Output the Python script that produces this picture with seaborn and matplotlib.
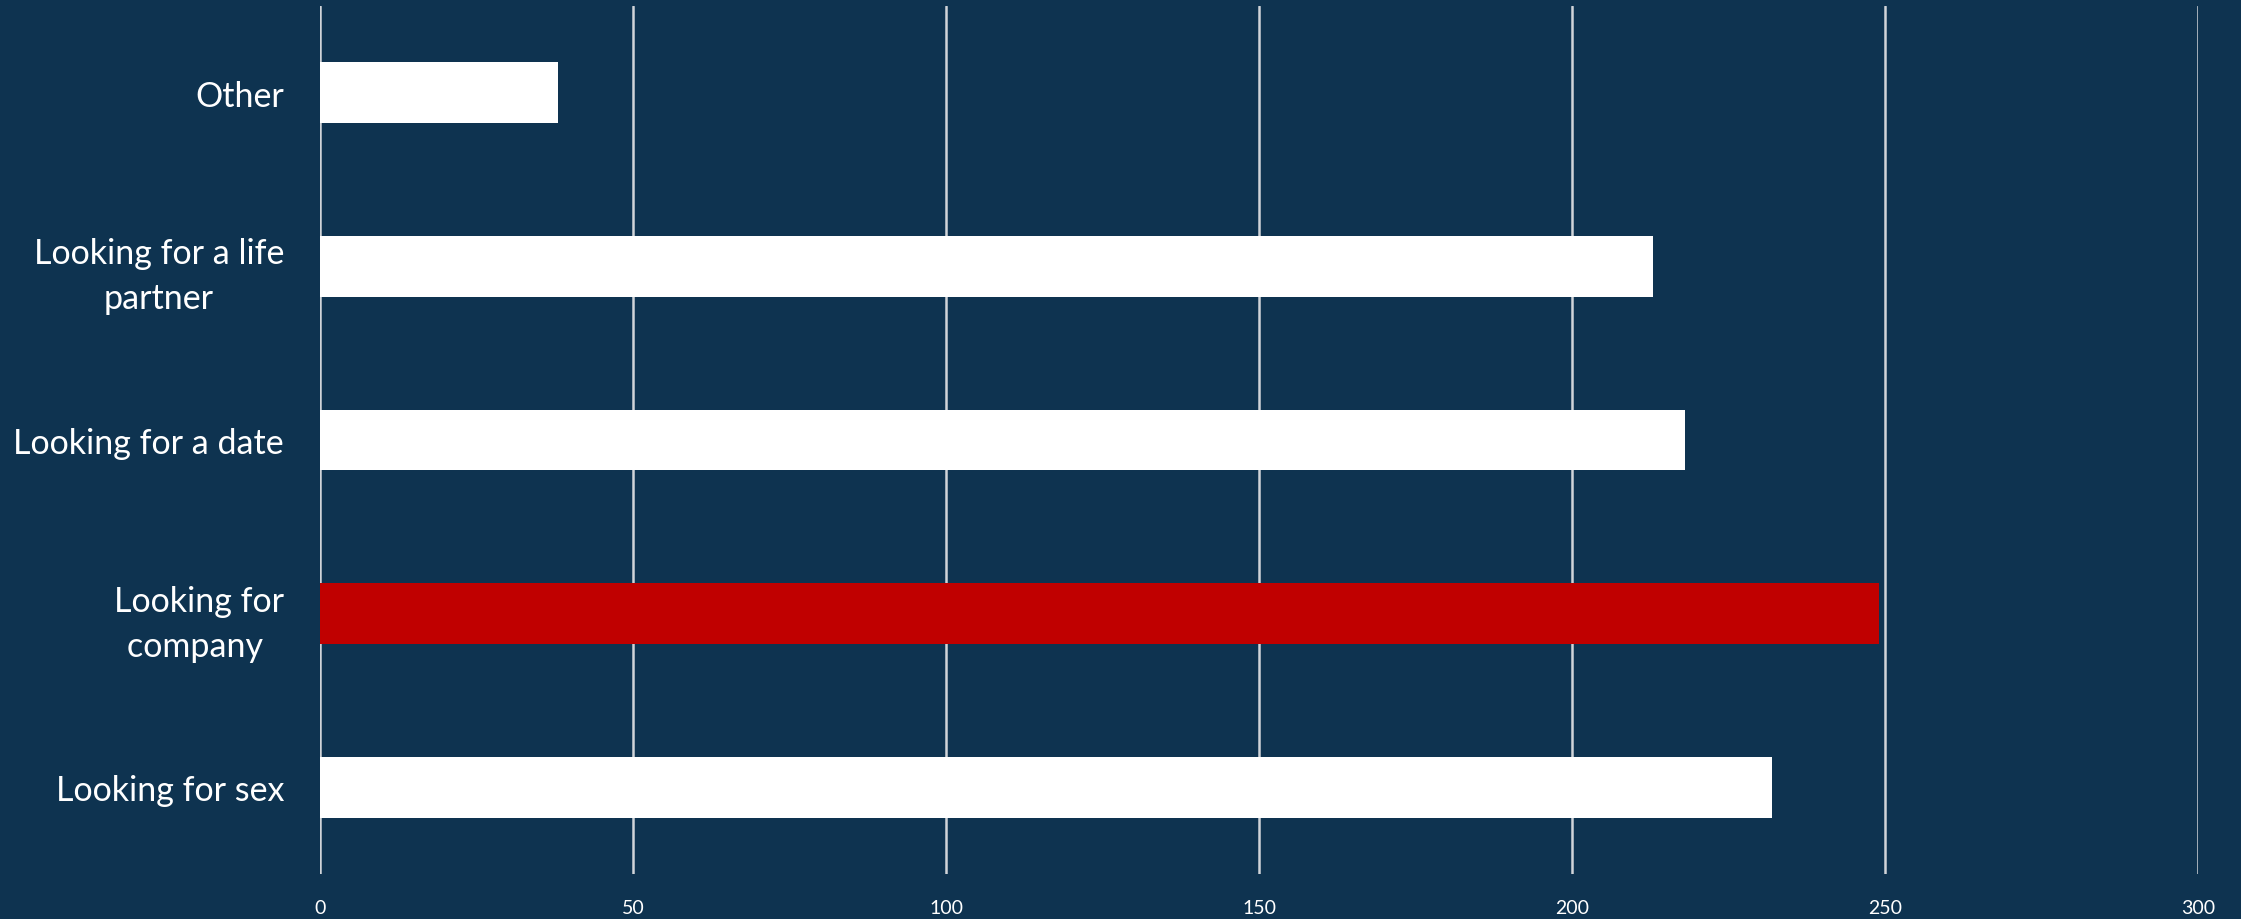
import matplotlib
matplotlib.use("Agg")
import matplotlib.pyplot as plt
import pandas as pd
import seaborn as sns

# data
reasons = ["Other", "Looking for a life\npartner", "Looking for a date",
           "Looking for\ncompany ", "Looking for sex"]
counts = [38, 213, 218, 249, 232]
highlight = "Looking for\ncompany "
x_ticks = [0, 50, 100, 150, 200, 250, 300]

bg = "#0E3350"
red = "#C00000"
grid_col = "#D0D4D8"

df = pd.DataFrame({"reason": reasons, "count": counts})
palette = {r: (red if r == highlight else "white") for r in reasons}

sns.set_theme(style="white")
plt.rcParams["font.family"] = ["Lato", "DejaVu Sans"]

fig = plt.figure(figsize=(22.41, 9.20), dpi=100, facecolor=bg)
ax = fig.add_axes([320 / 2241, 1 - 875 / 920, (2198 - 320) / 2241, (875 - 7) / 920])
ax.set_facecolor(bg)

sns.barplot(data=df, y="reason", x="count", hue="reason", order=reasons,
            palette=palette, width=0.35, saturation=1, legend=False, ax=ax,
            linewidth=0, zorder=3)

ax.set_xlim(0, 300)
ax.set_xticks(x_ticks)
ax.xaxis.grid(True, color=grid_col, linewidth=1.8, zorder=0)
ax.yaxis.grid(False)
for s in ax.spines.values():
    s.set_visible(False)

ax.set_xlabel("")
ax.set_ylabel("")
ax.tick_params(axis="x", colors="white", labelsize=14, length=0, pad=18)
ax.tick_params(axis="y", colors="white", labelsize=24.5, length=0, pad=26)
for lab in ax.get_yticklabels():
    lab.set_multialignment("center")
    lab.set_linespacing(1.5)

fig.savefig("out.png", dpi=100, facecolor=bg)
